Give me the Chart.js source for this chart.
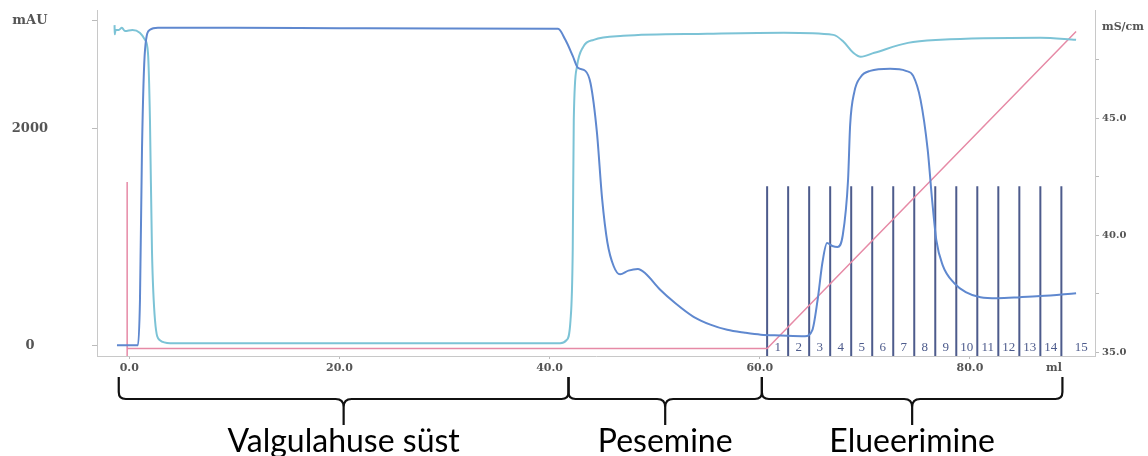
<!DOCTYPE html>
<html lang="et">
<head>
    <meta charset="UTF-8">
    <title>Kromatogramm</title>
    <script src="https://cdn.jsdelivr.net/npm/chart.js@4.4.1/dist/chart.umd.min.js"></script>
    <style>
        html, body { margin: 0; padding: 0; background: #fff; }
    </style>
</head>
<body>
    <canvas id="chrom" width="1148" height="456"></canvas>

    <script>
        // UV signaal (mAU) ruumala (ml) järgi
        const uvVolume = [-1.17, 0.83, 1.02, 1.21, 1.5, 1.97, 2.73, 10, 20, 30,
            40.8, 41.5, 42.2, 42.7, 43.4, 43.9, 44.5, 45.0, 45.5, 46.1,
            46.7, 47.5, 48.4, 49.1, 50.5, 52.0, 53.7, 55.3, 56.9, 58.6,
            60.1, 61.97, 64.3, 65.0, 65.5, 65.97, 66.4, 66.9, 67.4, 67.9,
            68.4, 68.6, 69.0, 69.6, 70.5, 72.4, 73.9, 74.6, 75.3, 75.98,
            76.4, 76.8, 77.4, 78.5, 79.6, 81.0, 82.6, 84.8, 86.7, 90.1];
        const uvValues = [0, 0, 417, 1806, 2731, 2917, 2935, 2935, 2932, 2930,
            2926, 2824, 2676, 2565, 2537, 2420, 1970, 1350, 950, 730,
            655, 690, 705, 665, 515, 385, 262, 190, 142, 115,
            97, 90, 83, 139, 417, 769, 944, 917, 907, 1019,
            1528, 2037, 2343, 2481, 2537, 2556, 2537, 2491, 2269, 1806,
            1343, 972, 741, 574, 491, 444, 435, 444, 454, 481];

        // teine signaal
        const uv2Volume = [-1.4, -1.38, -1.3, -1.0, -0.7, -0.4, 0.3, 1.0, 1.5, 1.78,
            1.97, 2.16, 2.45, 2.92, 3.9, 20, 41.0, 41.6, 41.99, 42.2,
            42.3, 42.6, 43.2, 44.2, 47.0, 55.0, 62.3, 67.0, 67.97, 68.9,
            69.6, 70.9, 74.1, 77.2, 86.7, 90.1];
        const uv2Values = [2960, 2875, 2915, 2915, 2935, 2905, 2915, 2890, 2824, 2704,
            2083, 880, 231, 46, 19, 19, 19, 46, 231, 880,
            2083, 2574, 2759, 2824, 2861, 2880, 2889, 2870, 2806, 2704,
            2667, 2704, 2796, 2824, 2843, 2824];

        // juhtivus / gradient (mS/cm)
        const gradVolume = [-0.2, 60.7, 90.1];
        const gradValues = [35.15, 35.15, 48.7];

        // süstimise märk
        const injectVolume = -0.2;
        const injectTop = 1510;

        // fraktsioonid
        const fractionStarts = [60.7, 62.7, 64.7, 66.7, 68.7, 70.7, 72.7, 74.7,
            76.7, 78.7, 80.7, 82.7, 84.7, 86.7, 88.7];
        const fractionTop = 1470;
        const fractionLabelPos = [61.7, 63.7, 65.7, 67.7, 69.7, 71.7, 73.7, 75.7,
            77.7, 79.7, 81.7, 83.7, 85.7, 87.7, 90.6];
        const fractionNames = ['1', '2', '3', '4', '5', '6', '7', '8', '9', '10',
            '11', '12', '13', '14', '15'];

        // teljed
        const xTicks = [0, 20, 40, 60, 80, 88];
        const leftTicks = [0, 2000, 3000];
        const rightTicks = [35, 37.5, 40, 42.5, 45, 47.5, 48.9];

        // etapid
        const phases = ['Valgulahuse süst', 'Pesemine', 'Elueerimine'];
        const phaseBounds = [-1, 41.8, 60.2, 88.8];

        const pts = (xs, ys) => xs.map((x, i) => ({ x: x, y: ys[i] }));

        const fractionData = [];
        fractionStarts.forEach(v => {
            fractionData.push({ x: v, y: fractionTop }, { x: v, y: -100 }, { x: v, y: null });
        });

        const tickFont = size => ({ family: 'DejaVu Serif', weight: 'bold', size: size });

        // fraktsioonide numbrid ja etappide sulud
        const annotations = {
            id: 'annotations',
            afterDraw(chart) {
                const { ctx, chartArea } = chart;
                const x = chart.scales.x;
                const b = chartArea.bottom;
                ctx.save();
                ctx.fillStyle = '#4d5b8c';
                ctx.font = '13px "Liberation Serif"';
                ctx.textAlign = 'center';
                ctx.textBaseline = 'middle';
                fractionNames.forEach((name, i) => {
                    ctx.fillText(name, x.getPixelForValue(fractionLabelPos[i]), b - 8);
                });

                ctx.strokeStyle = '#111';
                ctx.lineWidth = 2.2;
                ctx.fillStyle = '#000';
                ctx.font = '32px Lato';
                ctx.textBaseline = 'alphabetic';
                const yTop = b + 21, yLine = b + 43, yTip = b + 69;
                phases.forEach((name, i) => {
                    const x0 = x.getPixelForValue(phaseBounds[i]);
                    const x1 = x.getPixelForValue(phaseBounds[i + 1]);
                    const xm = (x0 + x1) / 2;
                    ctx.beginPath();
                    ctx.moveTo(x0, yTop);
                    ctx.lineTo(x0, yLine - 7);
                    ctx.quadraticCurveTo(x0, yLine, x0 + 7, yLine);
                    ctx.lineTo(xm - 8, yLine);
                    ctx.quadraticCurveTo(xm, yLine, xm, yLine + 8);
                    ctx.lineTo(xm, yTip);
                    ctx.moveTo(xm, yLine + 8);
                    ctx.quadraticCurveTo(xm, yLine, xm + 8, yLine);
                    ctx.lineTo(x1 - 7, yLine);
                    ctx.quadraticCurveTo(x1, yLine, x1, yLine - 7);
                    ctx.lineTo(x1, yTop);
                    ctx.stroke();
                    ctx.fillText(name, xm, b + 96);
                });
                ctx.restore();
            }
        };

        new Chart(document.getElementById('chrom'), {
            type: 'line',
            data: {
                datasets: [
                    {
                        label: 'UV',
                        data: pts(uvVolume, uvValues),
                        borderColor: '#5f88cf',
                        borderWidth: 2,
                        cubicInterpolationMode: 'monotone',
                        yAxisID: 'y'
                    },
                    {
                        label: 'UV 2',
                        data: pts(uv2Volume, uv2Values),
                        borderColor: '#7cc3d6',
                        borderWidth: 2,
                        cubicInterpolationMode: 'monotone',
                        yAxisID: 'y'
                    },
                    {
                        label: 'Gradient',
                        data: pts(gradVolume, gradValues),
                        borderColor: '#e68aa6',
                        borderWidth: 1.5,
                        tension: 0,
                        yAxisID: 'y2'
                    },
                    {
                        label: 'Süst',
                        data: [{ x: injectVolume, y: injectTop }, { x: injectVolume, y: -100 }],
                        borderColor: '#e68aa6',
                        borderWidth: 1.5,
                        tension: 0,
                        yAxisID: 'y'
                    },
                    {
                        label: 'Fraktsioonid',
                        data: fractionData,
                        borderColor: '#4d5b8c',
                        borderWidth: 2,
                        tension: 0,
                        spanGaps: false,
                        yAxisID: 'y'
                    }
                ]
            },
            options: {
                responsive: false,
                animation: false,
                devicePixelRatio: 1,
                elements: { point: { radius: 0 } },
                layout: { padding: { top: 10, left: 0, right: 0, bottom: 0 } },
                plugins: {
                    legend: { display: false },
                    tooltip: { enabled: false }
                },
                scales: {
                    x: {
                        type: 'linear',
                        min: -3.07,
                        max: 91.9,
                        afterBuildTicks: s => { s.ticks = xTicks.map(v => ({ value: v })); },
                        afterFit: s => { s.height = 100; },
                        grid: {
                            drawOnChartArea: false,
                            tickLength: 3,
                            tickColor: c => (c.tick && c.tick.value === 88) ? 'rgba(0,0,0,0)' : '#bbb'
                        },
                        border: { color: '#c8c8c8' },
                        ticks: {
                            autoSkip: false,
                            maxRotation: 0,
                            padding: 3,
                            color: '#555',
                            font: tickFont(11),
                            callback: v => v === 88 ? 'ml' : v.toFixed(1)
                        }
                    },
                    y: {
                        position: 'left',
                        min: -100,
                        max: 3100,
                        afterBuildTicks: s => { s.ticks = leftTicks.map(v => ({ value: v })); },
                        // the big label padding must not push the plot down
                        afterFit: s => { s.width = 97; s.paddingTop = 4; s.paddingBottom = 4; },
                        grid: { drawOnChartArea: false, tickLength: 5, tickColor: '#bbb' },
                        border: { color: '#c8c8c8' },
                        ticks: {
                            autoSkip: false,
                            crossAlign: 'center',
                            padding: 44,
                            color: '#555',
                            font: tickFont(13),
                            callback: v => v === 3000 ? 'mAU' : String(v)
                        }
                    },
                    y2: {
                        position: 'right',
                        min: 34.83,
                        max: 49.62,
                        afterBuildTicks: s => { s.ticks = rightTicks.map(v => ({ value: v })); },
                        afterFit: s => { s.width = 53; s.paddingTop = 4; s.paddingBottom = 4; },
                        grid: {
                            drawOnChartArea: false,
                            tickLength: 4,
                            tickColor: c => (c.tick && c.tick.value === 48.9) ? 'rgba(0,0,0,0)' : '#bbb'
                        },
                        border: { color: '#c8c8c8' },
                        ticks: {
                            autoSkip: false,
                            padding: 3,
                            color: '#555',
                            font: c => tickFont(c.tick && c.tick.value === 48.9 ? 11 : 10),
                            callback: v => v === 48.9 ? 'mS/cm' : (v % 5 === 0 ? v.toFixed(1) : '')
                        }
                    }
                }
            },
            plugins: [annotations]
        });
    </script>
</body>
</html>
